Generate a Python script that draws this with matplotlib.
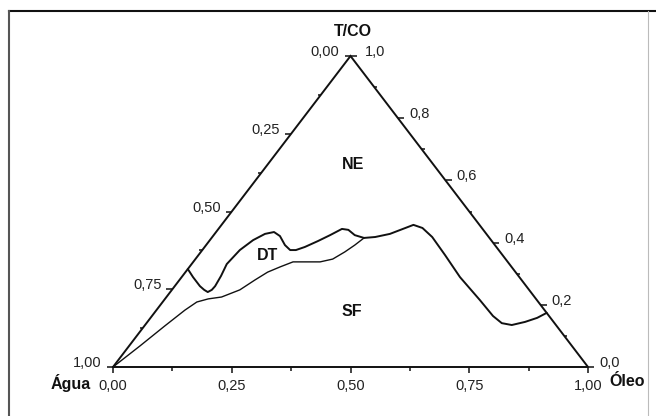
import matplotlib
matplotlib.use("Agg")
import matplotlib.pyplot as plt
from matplotlib.lines import Line2D
import numpy as np

plt.rcParams['font.family'] = ['Liberation Sans', 'DejaVu Sans']

# ---------------- data (ternary fractions: Óleo, T/CO) ----------------
upper_oleo = [0.000, 0.024, 0.053, 0.068, 0.079, 0.084, 0.085, 0.081, 0.074, 0.079,
              0.091, 0.106, 0.122, 0.141, 0.166, 0.185, 0.197, 0.211, 0.229, 0.245,
              0.260, 0.275, 0.297, 0.321, 0.343, 0.369, 0.392, 0.404, 0.428, 0.463,
              0.519, 0.586, 0.665, 0.718, 0.748, 0.772, 0.795, 0.814, 0.826]
upper_tco = [0.315, 0.289, 0.260, 0.248, 0.241, 0.248, 0.260, 0.293, 0.331, 0.376,
             0.408, 0.428, 0.434, 0.421, 0.392, 0.376, 0.376, 0.386, 0.405, 0.424,
             0.444, 0.441, 0.424, 0.415, 0.418, 0.428, 0.447, 0.457, 0.447, 0.418,
             0.360, 0.289, 0.215, 0.164, 0.141, 0.135, 0.145, 0.158, 0.174]

lower_oleo = [0.000, 0.023, 0.043, 0.060, 0.072, 0.091, 0.116, 0.143, 0.159, 0.173,
              0.191, 0.210, 0.235, 0.267, 0.289, 0.303, 0.313, 0.321]
lower_tco = [0.000, 0.068, 0.132, 0.183, 0.209, 0.219, 0.225, 0.248, 0.280, 0.305,
             0.322, 0.338, 0.338, 0.338, 0.347, 0.370, 0.392, 0.415]

agua_major = [0.00, 0.25, 0.50, 0.75, 1.00]
agua_minor = [0.125, 0.375, 0.625, 0.875]
oleo_major = [0.00, 0.25, 0.50, 0.75, 1.00]
oleo_minor = [0.125, 0.375, 0.625, 0.875]
tco_major = [0.0, 0.2, 0.4, 0.6, 0.8, 1.0]
tco_minor = [0.1, 0.3, 0.5, 0.7, 0.9]

region_names = ["NE", "DT", "SF"]
# ---------------------------------------------------------------------


def tern(oleo, tco):
    oleo = np.asarray(oleo, float)
    tco = np.asarray(tco, float)
    return oleo + tco / 2.0, tco


W, H = 656, 416
fig = plt.figure(figsize=(W / 100, H / 100), dpi=100)
fig.patch.set_facecolor("white")
ax = fig.add_axes([113 / W, (H - 367) / H, 475 / W, 311 / H])
ax.set_xlim(0, 1)
ax.set_ylim(0, 1)
ax.axis("off")

ink = "#111111"
txt = "#222222"

# triangle
tx, ty = tern([0, 1, 0, 0], [0, 0, 1, 0])
ax.plot(tx, ty, color=ink, lw=1.4, clip_on=False, solid_joinstyle="miter")

# curves
ux, uy = tern(upper_oleo, upper_tco)
ax.plot(ux, uy, color=ink, lw=1.4, clip_on=False, solid_joinstyle="round",
        solid_capstyle="round")
lx, ly = tern(lower_oleo, lower_tco)
ax.plot(lx, ly, color=ink, lw=1.0, clip_on=False, solid_joinstyle="round")

tick_kw = dict(ls="none", color=ink, mew=1.1, clip_on=False)
lab_fs = 10.5

# left axis (Água): oleo = 0, tco = 1 - a
x, y = tern([0] * len(agua_major), [1 - a for a in agua_major])
ax.plot(x, y, marker=0, ms=4.3, **tick_kw)
x2, y2 = tern([0] * len(agua_minor), [1 - a for a in agua_minor])
ax.plot(x2, y2, marker=0, ms=2.5, **tick_kw)
for a, xi, yi in zip(agua_major, x, y):
    ax.annotate(f"{a:.2f}".replace(".", ","), (xi, yi), xytext=(-11, 4),
                textcoords="offset pixels", ha="right", va="center",
                fontsize=lab_fs, color=txt)

# bottom axis (Óleo): tco = 0
x, y = tern(oleo_major, [0] * len(oleo_major))
ax.plot(x, y, marker=3, ms=4.3, **tick_kw)
x2, y2 = tern(oleo_minor, [0] * len(oleo_minor))
ax.plot(x2, y2, marker=3, ms=3.0, **tick_kw)
for v, xi, yi in zip(oleo_major, x, y):
    ax.annotate(f"{v:.2f}".replace(".", ","), (xi, yi), xytext=(0, -19),
                textcoords="offset pixels", ha="center", va="center",
                fontsize=lab_fs, color=txt)

# right axis (T/CO): oleo = 1 - t
x, y = tern([1 - t for t in tco_major], tco_major)
ax.plot(x, y, marker=1, ms=4.3, **tick_kw)
x2, y2 = tern([1 - t for t in tco_minor], tco_minor)
ax.plot(x2, y2, marker=1, ms=2.5, **tick_kw)
for t, xi, yi in zip(tco_major, x, y):
    dx = 14 if t == 1.0 else 11
    ax.annotate(f"{t:.1f}".replace(".", ","), (xi, yi), xytext=(dx, 4),
                textcoords="offset pixels", ha="left", va="center",
                fontsize=lab_fs, color=txt)

# vertex titles
bold = dict(fontsize=11.5, fontweight="bold", color=ink, va="center")
vx, vy = tern([0, 1, 0], [1, 0, 0])
ax.annotate("T/CO", (vx[0], vy[0]), xytext=(2, 24), textcoords="offset pixels",
            ha="center", **bold)
ax.annotate("Óleo", (vx[1], vy[1]), xytext=(21, -15), textcoords="offset pixels",
            ha="left", **bold)
ax.annotate("Água", (vx[2], vy[2]), xytext=(-22, -16), textcoords="offset pixels",
            ha="right", **bold)

# region labels
region_pos = [(0.505, 0.650), (0.326, 0.360), (0.503, 0.177)]
for name, (px, py) in zip(region_names, region_pos):
    ax.text(px, py, name, ha="center", **bold)

# outer frame
fig.add_artist(Line2D([9 / W, 1.0], [1 - 11 / H] * 2, transform=fig.transFigure,
                      color="#111111", lw=1.5))
fig.add_artist(Line2D([9 / W] * 2, [0, 1 - 11 / H], transform=fig.transFigure,
                      color="#555555", lw=1.5))
fig.add_artist(Line2D([648 / W] * 2, [0, 1 - 11 / H], transform=fig.transFigure,
                      color="#bbbbbb", lw=0.8))

fig.savefig("out.png", dpi=100, facecolor="white")
